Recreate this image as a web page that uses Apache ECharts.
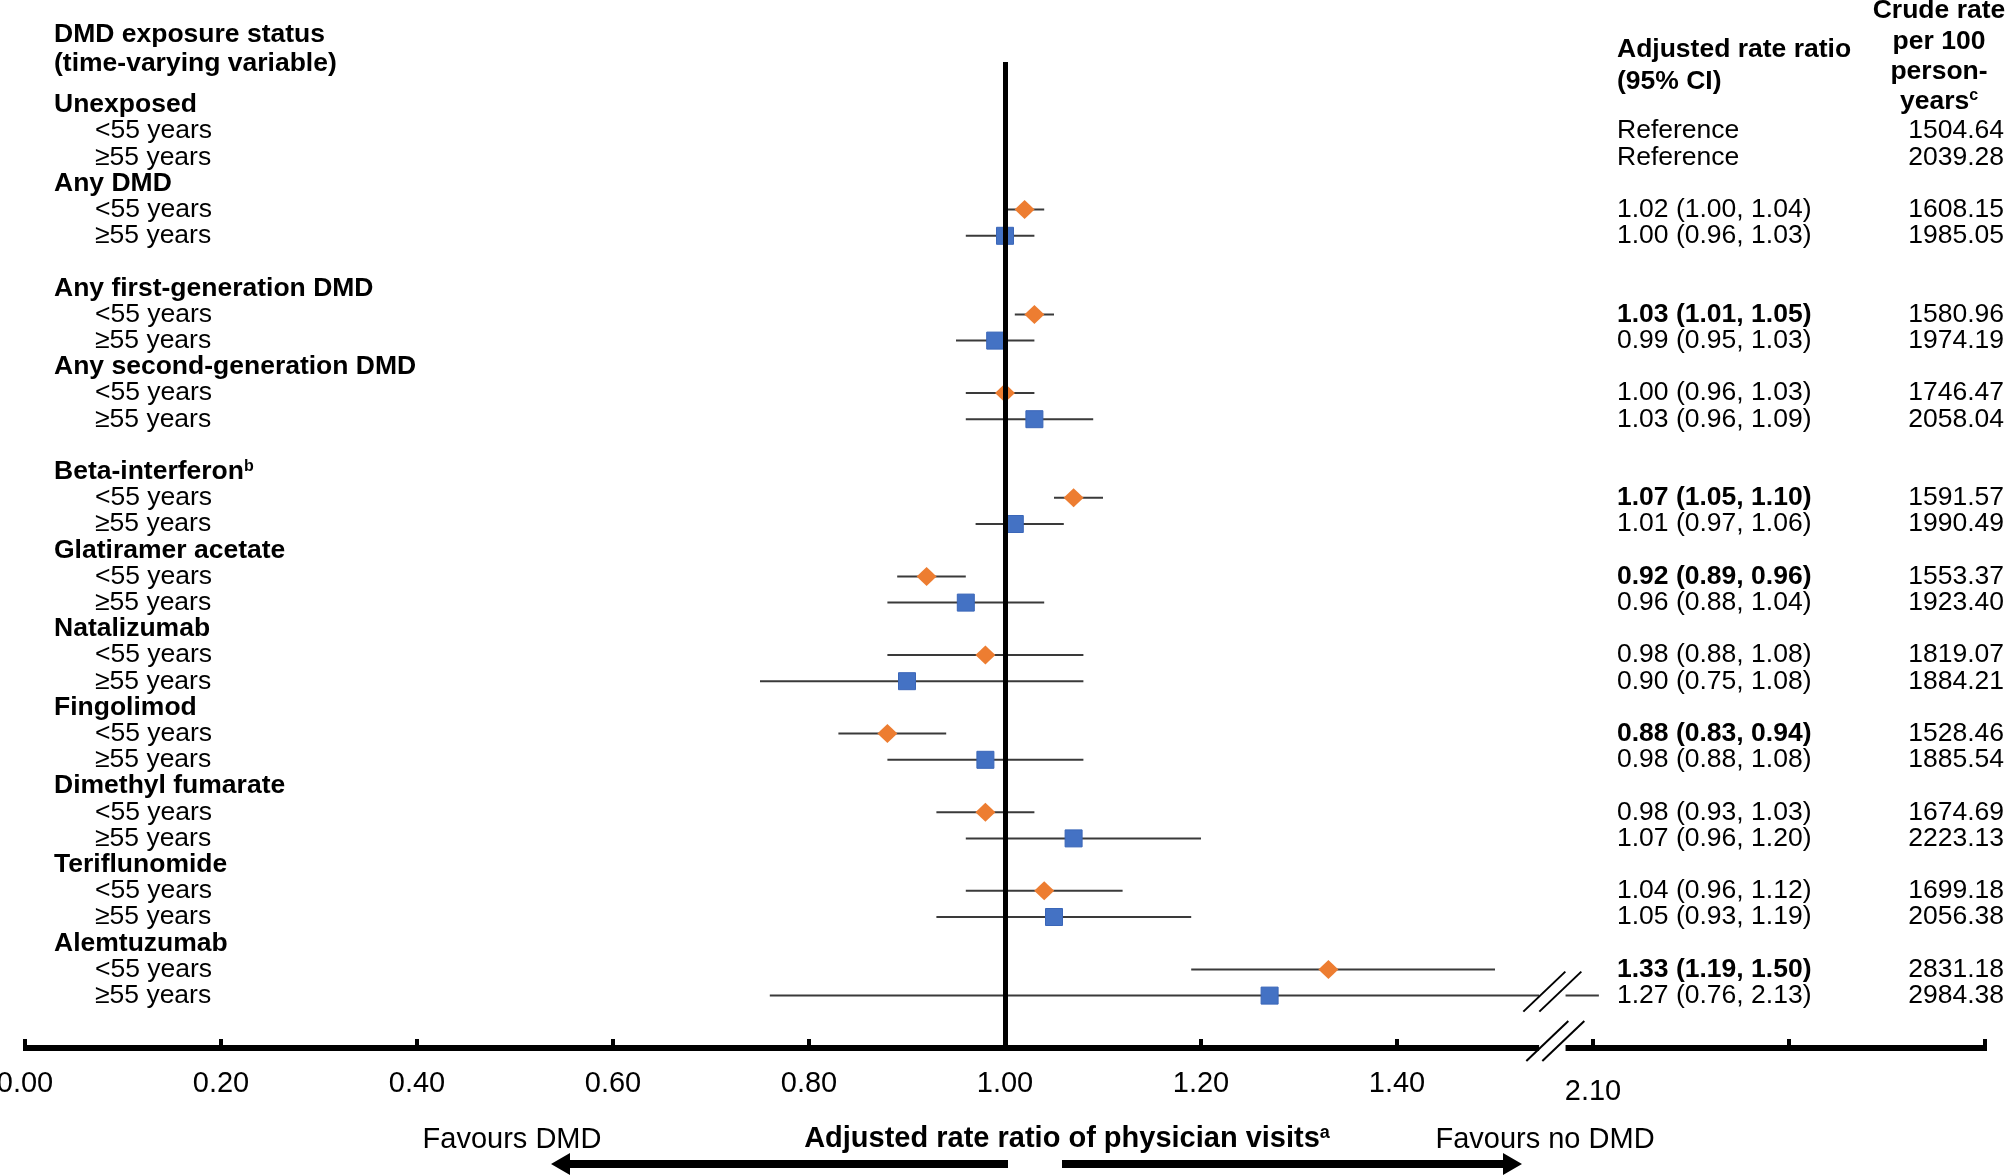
<!DOCTYPE html>
<html>
<head>
<meta charset="utf-8">
<title>Adjusted rate ratio of physician visits</title>
<script src="https://cdn.jsdelivr.net/npm/echarts@6.0.0/dist/echarts.min.js"></script>
<style>
  html, body { margin: 0; padding: 0; background: #fff; }
  #chart { width: 2008px; height: 1176px; }
</style>
</head>
<body>
<div id="chart"></div>
<script>
// exposure groups, each followed by the two age rows
var groupNames = ['Unexposed', 'Any DMD', 'Any first-generation DMD', 'Any second-generation DMD',
  'Beta-interferon', 'Glatiramer acetate', 'Natalizumab', 'Fingolimod', 'Dimethyl fumarate',
  'Teriflunomide', 'Alemtuzumab'];
var groupNotes = ['', '', '', '', 'b', '', '', '', '', '', ''];
var blankAfter = ['Any DMD', 'Any second-generation DMD'];
var ageGroups = ['<55 years', '≥55 years'];

// adjusted rate ratio and 95% CI (null = reference)
var rrYoung = [null, 1.02, 1.03, 1.00, 1.07, 0.92, 0.98, 0.88, 0.98, 1.04, 1.33];
var loYoung = [null, 1.00, 1.01, 0.96, 1.05, 0.89, 0.88, 0.83, 0.93, 0.96, 1.19];
var hiYoung = [null, 1.04, 1.05, 1.03, 1.10, 0.96, 1.08, 0.94, 1.03, 1.12, 1.50];
var rrOld = [null, 1.00, 0.99, 1.03, 1.01, 0.96, 0.90, 0.98, 1.07, 1.05, 1.27];
var loOld = [null, 0.96, 0.95, 0.96, 0.97, 0.88, 0.75, 0.88, 0.96, 0.93, 0.76];
var hiOld = [null, 1.03, 1.03, 1.09, 1.06, 1.04, 1.08, 1.08, 1.20, 1.19, 2.13];

// crude rate per 100 person-years
var crudeYoung = [1504.64, 1608.15, 1580.96, 1746.47, 1591.57, 1553.37, 1819.07, 1528.46, 1674.69, 1699.18, 2831.18];
var crudeOld = [2039.28, 1985.05, 1974.19, 2058.04, 1990.49, 1923.40, 1884.21, 1885.54, 2223.13, 2056.38, 2984.38];

// x axis ticks; the axis is broken after 1.545 and compressed beyond the break
var xTickLabels = ['0.00', '0.20', '0.40', '0.60', '0.80', '1.00', '1.20', '1.40', '2.10', '', ''];
var BREAK_FROM = 1.545;
var AFTER_VALUE = 2.10, AFTER_POS = 1.60, AFTER_SCALE = 0.2;

function tx(v) { return v > BREAK_FROM ? AFTER_POS + (v - AFTER_VALUE) * AFTER_SCALE : v; }
var gapStart = BREAK_FROM, gapEnd = 1.572;

var Y_MIN = -4, Y_MAX = 36, REF_TOP = -1.63;
var FONT = '"Liberation Sans", Arial, sans-serif';
var FS = 26.5;

// build table rows
var rows = [];
groupNames.forEach(function (g, i) {
  rows.push({kind: 'group', label: g, note: groupNotes[i]});
  rows.push({kind: 'sub', label: ageGroups[0], age: 0, rr: rrYoung[i], lo: loYoung[i], hi: hiYoung[i], crude: crudeYoung[i]});
  rows.push({kind: 'sub', label: ageGroups[1], age: 1, rr: rrOld[i], lo: loOld[i], hi: hiOld[i], crude: crudeOld[i]});
  if (blankAfter.indexOf(g) >= 0) rows.push({kind: 'blank'});
});

var youngPts = [], oldPts = [], ciData = [];
rows.forEach(function (r, idx) {
  if (r.kind !== 'sub' || r.rr == null) return;
  (r.age === 0 ? youngPts : oldPts).push([tx(r.rr), idx]);
  ciData.push([tx(r.lo), tx(r.hi), idx]);
});

function rowAt(v) {
  var i = Math.round(v);
  return i >= 0 && i < rows.length ? rows[i] : null;
}

function slashes(cx, cy) {
  var out = [];
  [-8, 8].forEach(function (dx) {
    out.push({type: 'line', shape: {x1: cx + dx - 21, y1: cy + 20, x2: cx + dx + 21, y2: cy - 20},
      style: {stroke: '#000', lineWidth: 2}});
  });
  return out;
}

function renderCI(params, api) {
  var lo = api.value(0), hi = api.value(1), row = api.value(2);
  var y = api.coord([0, row])[1];
  var children = [];
  function seg(a, b) {
    children.push({type: 'line', shape: {x1: api.coord([a, row])[0], y1: y, x2: api.coord([b, row])[0], y2: y},
      style: {stroke: '#3a3a3a', lineWidth: 2}});
  }
  if (hi > gapStart) {
    seg(lo, gapStart);
    seg(gapEnd, hi);
    var cx = api.coord([(gapStart + gapEnd) / 2, row])[0];
    children = children.concat(slashes(cx, y - 4));
  } else {
    seg(lo, hi);
  }
  return {type: 'group', children: children};
}

function renderAxis(params, api) {
  var y = api.coord([0, Y_MAX])[1];
  var x0 = api.coord([0, Y_MAX])[0], x1 = api.coord([gapStart, Y_MAX])[0];
  var x2 = api.coord([gapEnd, Y_MAX])[0], x3 = api.coord([2.0, Y_MAX])[0];
  var st = {stroke: '#000', lineWidth: 6};
  var cx = api.coord([(gapStart + gapEnd) / 2, Y_MAX])[0];
  return {type: 'group', children: [
    {type: 'line', shape: {x1: x0 - 2, y1: y, x2: x1, y2: y}, style: st},
    {type: 'line', shape: {x1: x2, y1: y, x2: x3 + 2, y2: y}, style: st}
  ].concat(slashes(cx + 3, y - 7))};
}

function plainText(text, x, y, size, bold, align) {
  return {type: 'text', silent: true, style: {
    text: text, x: x, y: y, fill: '#000',
    fontSize: size, fontWeight: bold ? 'bold' : 'normal', fontFamily: FONT,
    align: align || 'left', verticalAlign: 'middle', textAlign: align || 'left', textVerticalAlign: 'middle'
  }};
}

function richText(text, x, y, rich, align) {
  return {type: 'text', silent: true, style: {
    text: text, x: x, y: y, rich: rich,
    align: align, verticalAlign: 'middle', textAlign: align, textVerticalAlign: 'middle'
  }};
}

var supRich = {
  m: {fontSize: FS, fontWeight: 'bold', fontFamily: FONT, color: '#000', lineHeight: 28},
  s: {fontSize: 16, fontWeight: 'bold', fontFamily: FONT, color: '#000', verticalAlign: 'top', lineHeight: 28}
};
var footRich = {
  m: {fontSize: 29, fontWeight: 'bold', fontFamily: FONT, color: '#000', lineHeight: 30},
  s: {fontSize: 18, fontWeight: 'bold', fontFamily: FONT, color: '#000', verticalAlign: 'top', lineHeight: 30}
};

function arrow(tipX, baseX, tailX, y) {
  return {type: 'polygon', silent: true, shape: {points: [
    [tailX, y - 4], [baseX, y - 4], [baseX, y - 11], [tipX, y], [baseX, y + 11], [baseX, y + 4], [tailX, y + 4]
  ]}, style: {fill: '#000'}};
}

var chart = echarts.init(document.getElementById('chart'));

var option = {
  animation: false,
  backgroundColor: '#fff',
  textStyle: {fontFamily: FONT},
  grid: {left: 25, right: 23, top: 0, bottom: 128, containLabel: false, outerBoundsMode: 'none'},
  xAxis: {
    type: 'value', min: 0, max: 2.0, interval: 0.2, position: 'bottom',
    axisLine: {show: false, onZero: false},
    axisTick: {show: true, inside: true, length: 9, lineStyle: {color: '#000', width: 4}},
    splitLine: {show: false},
    axisLabel: {
      margin: 21, fontSize: 29, color: '#000', fontFamily: FONT,
      formatter: function (v) {
        var t = xTickLabels[Math.round(v / 0.2)] || '';
        return v > gapStart && t ? '{lo|' + t + '}' : t;
      },
      rich: {lo: {fontSize: 29, color: '#000', fontFamily: FONT, padding: [8, 0, 0, 0]}}
    }
  },
  yAxis: [
    {
      type: 'value', min: Y_MIN, max: Y_MAX, interval: 1, inverse: true, position: 'left',
      axisLine: {show: false, onZero: false}, axisTick: {show: false}, splitLine: {show: false},
      axisLabel: {
        inside: true, align: 'left', margin: 29,
        formatter: function (v) {
          var r = rowAt(v);
          if (!r || r.kind === 'blank') return '';
          if (r.kind === 'group') return '{g|' + r.label + '}' + (r.note ? '{sup|' + r.note + '}' : '');
          return '{s|' + r.label + '}';
        },
        rich: {
          g: {fontSize: FS, fontWeight: 'bold', color: '#000', fontFamily: FONT, lineHeight: 26},
          sup: {fontSize: 16, fontWeight: 'bold', color: '#000', fontFamily: FONT, verticalAlign: 'top', lineHeight: 26},
          s: {fontSize: FS, color: '#000', fontFamily: FONT, padding: [0, 0, 0, 41], lineHeight: 26}
        }
      }
    },
    {
      type: 'value', min: Y_MIN, max: Y_MAX, interval: 1, inverse: true, position: 'right', offset: 0,
      axisLine: {show: false, onZero: false}, axisTick: {show: false}, splitLine: {show: false},
      axisLabel: {
        inside: true, align: 'left', margin: 368,
        formatter: function (v) {
          var r = rowAt(v);
          if (!r || r.kind !== 'sub') return '';
          if (r.rr == null) return '{n|Reference}';
          var txt = r.rr.toFixed(2) + ' (' + r.lo.toFixed(2) + ', ' + r.hi.toFixed(2) + ')';
          var sig = r.lo > 1 || r.hi < 1;
          return (sig ? '{b|' : '{n|') + txt + '}';
        },
        rich: {
          n: {fontSize: FS, color: '#000', fontFamily: FONT},
          b: {fontSize: FS, fontWeight: 'bold', color: '#000', fontFamily: FONT}
        }
      }
    },
    {
      type: 'value', min: Y_MIN, max: Y_MAX, interval: 1, inverse: true, position: 'right', offset: 0,
      axisLine: {show: false, onZero: false}, axisTick: {show: false}, splitLine: {show: false},
      axisLabel: {
        inside: false, align: 'right', margin: 19, fontSize: FS, color: '#000', fontFamily: FONT,
        formatter: function (v) {
          var r = rowAt(v);
          return r && r.kind === 'sub' ? r.crude.toFixed(2) : '';
        }
      }
    }
  ],
  graphic: [
    plainText('DMD exposure status', 54, 35, FS, true),
    plainText('(time-varying variable)', 54, 64, FS, true),
    plainText('Adjusted rate ratio', 1617, 50, FS, true),
    plainText('(95% CI)', 1617, 82, FS, true),
    plainText('Crude rate', 1939, 11, FS, true, 'center'),
    plainText('per 100', 1939, 42, FS, true, 'center'),
    plainText('person-', 1939, 72, FS, true, 'center'),
    richText('{m|years}{s|c}', 1939, 102, supRich, 'center'),
    plainText('Favours DMD', 512, 1140, 29, false, 'center'),
    richText('{m|Adjusted rate ratio of physician visits}{s|a}', 1067, 1139, footRich, 'center'),
    plainText('Favours no DMD', 1545, 1140, 29, false, 'center'),
    arrow(551, 570, 1008, 1164),
    arrow(1522, 1503, 1062, 1164)
  ],
  series: [
    {
      name: 'x axis', type: 'custom', silent: true, z: 2,
      renderItem: renderAxis, data: [[0]], clip: false
    },
    {
      name: '95% CI', type: 'custom', silent: true, z: 2,
      renderItem: renderCI, data: ciData, clip: false,
      markLine: {
        silent: true, symbol: ['none', 'none'], label: {show: false},
        lineStyle: {color: '#000', width: 5, type: 'solid'},
        emphasis: {disabled: true},
        data: [[{coord: [1, REF_TOP]}, {coord: [1, Y_MAX]}]]
      }
    },
    {
      name: '<55 years', type: 'scatter', silent: true, z: 4,
      symbol: 'diamond', symbolSize: [20, 19],
      itemStyle: {color: '#ED7D31', opacity: 1},
      data: youngPts
    },
    {
      name: '≥55 years', type: 'scatter', silent: true, z: 4,
      symbol: 'rect', symbolSize: 17,
      itemStyle: {color: '#4472C4', borderColor: '#3a66b8', borderWidth: 1, opacity: 1},
      data: oldPts
    }
  ]
};

chart.setOption(option);
</script>
</body>
</html>
